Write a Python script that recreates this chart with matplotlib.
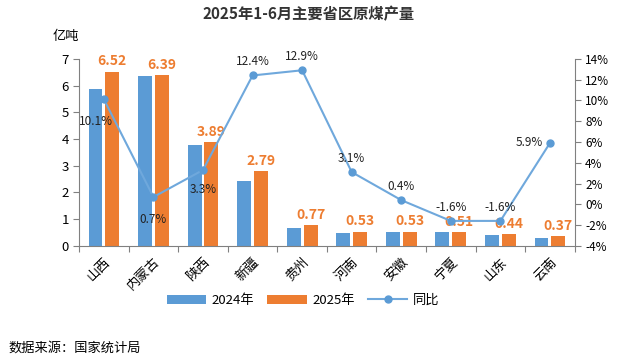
import numpy as np
import matplotlib.pyplot as plt

plt.rcParams['font.family'] = ['Noto Sans CJK SC', 'DejaVu Sans']

provinces = ['山西', '内蒙古', '陕西', '新疆', '贵州', '河南', '安徽', '宁夏', '山东', '云南']
output_2024 = [5.88, 6.35, 3.76, 2.42, 0.65, 0.48, 0.52, 0.50, 0.42, 0.30]
output_2025 = [6.52, 6.39, 3.89, 2.79, 0.77, 0.53, 0.53, 0.51, 0.44, 0.37]
yoy = [10.1, 0.7, 3.3, 12.4, 12.9, 3.1, 0.4, -1.6, -1.6, 5.9]
# label offsets for the yoy labels (points)
yoy_off = [(-6, -16), (0, -16), (0, -14), (0, 10), (0, 10), (0, 10), (0, 10), (0, 10), (0, 10), (-15, 0)]

blue = '#5B9BD5'
orange = '#ED7D31'
axis_col = '#808080'

fig = plt.figure(figsize=(6.18, 3.61), dpi=100)
ax = fig.add_axes([0.128, 0.319, 0.802, 0.518])
x = np.arange(len(provinces))
w = 0.28
ax.bar(x - 0.17, output_2024, w, color=blue, label='2024年')
ax.bar(x + 0.17, output_2025, w, color=orange, label='2025年')
for xi, v in zip(x, output_2025):
    ax.text(xi + 0.17, v + 0.12, f'{v:.2f}', color=orange, fontsize=10,
            fontweight='bold', ha='center', va='bottom')

ax.set_xlim(-0.5, len(provinces) - 0.5)
ax.set_ylim(0, 7)
ax.set_yticks(range(8))
ax.set_xticks(np.arange(-0.5, len(provinces), 1.0))
ax.set_xticklabels([])
ax.set_xticks(x, minor=True)
ax.set_xticklabels(provinces, minor=True, rotation=45, ha='right', va='top',
                   rotation_mode='anchor', fontsize=9.5)
ax.tick_params(axis='x', which='minor', length=0, pad=7)
ax.tick_params(axis='x', which='major', length=4, color=axis_col, direction='out')
ax.tick_params(axis='y', labelsize=9.5, color=axis_col, length=4)
for s in ['top', 'right']:
    ax.spines[s].set_visible(False)
for s in ['left', 'bottom']:
    ax.spines[s].set_color(axis_col)

ax2 = ax.twinx()
ln, = ax2.plot(x, yoy, color='#6FA8DC', lw=1.5, marker='o', ms=5,
               markerfacecolor=blue, markeredgecolor=blue, label='同比')
for xi, v, off in zip(x, yoy, yoy_off):
    ax2.annotate(f'{v:.1f}%', (xi, v), xytext=off, textcoords='offset points',
                 ha='center', va='center', fontsize=8.5, color='#222222')
ax2.set_ylim(-4, 14)
ax2.set_yticks(range(-4, 15, 2))
ax2.set_yticklabels([f'{t}%' for t in range(-4, 15, 2)])
ax2.tick_params(axis='y', labelsize=8.5, color=axis_col, length=4)
for s in ['top', 'left', 'bottom']:
    ax2.spines[s].set_visible(False)
ax2.spines['right'].set_color(axis_col)

h1, l1 = ax.get_legend_handles_labels()
fig.legend(h1 + [ln], l1 + ['同比'], loc='center', bbox_to_anchor=(0.49, 0.168),
           ncol=3, frameon=False, fontsize=9.5, handlelength=3, columnspacing=1.0,
           handletextpad=0.4)

fig.text(0.5, 0.96, '2025年1-6月主要省区原煤产量', ha='center', va='center',
         fontsize=11, fontweight='bold', color='#333333')
fig.text(0.085, 0.9, '亿吨', fontsize=9.5, ha='left', va='center')
fig.text(0.013, 0.037, '数据来源：国家统计局', fontsize=9.5, ha='left', va='center')

fig.savefig('out.png', dpi=100)
